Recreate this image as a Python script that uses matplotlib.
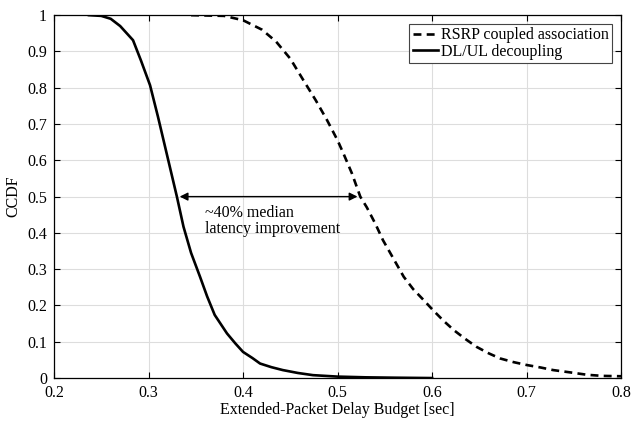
import matplotlib
matplotlib.use('Agg')
import matplotlib.pyplot as plt

plt.rcParams['font.family'] = ['Liberation Serif', 'DejaVu Serif']
plt.rcParams['font.size'] = 11.5

# RSRP coupled association (dashed)
x_rsrp = [0.345, 0.38, 0.40, 0.42, 0.435, 0.45, 0.464, 0.477, 0.489, 0.50, 0.506, 0.515, 0.524,
          0.531, 0.54, 0.548, 0.56, 0.570, 0.58, 0.591, 0.601, 0.612, 0.623, 0.635, 0.647,
          0.66, 0.672, 0.686, 0.70, 0.715, 0.728, 0.745, 0.764, 0.78, 0.80]
y_rsrp = [1.0, 0.998, 0.986, 0.96, 0.927, 0.88, 0.82, 0.765, 0.71, 0.655, 0.62, 0.565, 0.50,
          0.47, 0.425, 0.38, 0.325, 0.279, 0.245, 0.215, 0.187, 0.158, 0.132, 0.108, 0.086,
          0.068, 0.054, 0.044, 0.036, 0.029, 0.022, 0.016, 0.009, 0.006, 0.005]

# DL/UL decoupling (solid)
x_dec = [0.237, 0.25, 0.26, 0.27, 0.2836, 0.292, 0.3016, 0.310, 0.320, 0.330, 0.337, 0.345,
         0.3545, 0.362, 0.370, 0.383, 0.392, 0.400, 0.41, 0.418, 0.43, 0.442, 0.458, 0.474,
         0.50, 0.53, 0.56, 0.60]
y_dec = [1.0, 0.998, 0.99, 0.97, 0.931, 0.875, 0.807, 0.72, 0.61, 0.50, 0.417, 0.345,
         0.279, 0.225, 0.174, 0.123, 0.095, 0.072, 0.055, 0.040, 0.030, 0.022, 0.014, 0.008,
         0.004, 0.002, 0.001, 0.0]

fig = plt.figure(figsize=(6.33, 4.21), dpi=100)
ax = fig.add_axes([0.0853, 0.102, 0.896, 0.862])

ax.plot(x_rsrp, y_rsrp, 'k', ls=(0, (3, 2)), lw=1.9, label='RSRP coupled association')
ax.plot(x_dec, y_dec, 'k-', lw=1.9, label='DL/UL decoupling')

ax.annotate('', xy=(0.33, 0.5), xytext=(0.524, 0.5),
            arrowprops=dict(arrowstyle='<|-|>', color='k', lw=1, mutation_scale=12))
ax.text(0.360, 0.478, '~40% median\nlatency improvement', ha='left', va='top',
        fontsize=11.5, linespacing=1.0)

ax.set_xlim(0.2, 0.8)
ax.set_ylim(0, 1)
ax.set_xticks([0.2, 0.3, 0.4, 0.5, 0.6, 0.7, 0.8])
ax.set_yticks([i / 10 for i in range(11)])
ax.set_xticklabels(['0.2', '0.3', '0.4', '0.5', '0.6', '0.7', '0.8'])
ax.set_yticklabels(['0', '0.1', '0.2', '0.3', '0.4', '0.5', '0.6', '0.7', '0.8', '0.9', '1'])
ax.tick_params(direction='in', top=True, right=True, length=4, pad=5)
ax.grid(True, color='#dddddd', lw=0.8)
ax.set_axisbelow(True)
for s in ax.spines.values():
    s.set_linewidth(0.9)
ax.set_xlabel('Extended-Packet Delay Budget [sec]', fontsize=11.5, labelpad=1)
ax.set_ylabel('CCDF', fontsize=11.5, labelpad=4)

leg = ax.legend(loc='upper right', fancybox=False, framealpha=1, edgecolor='#444444',
                handlelength=1.6, handletextpad=0.2, borderpad=0.2, labelspacing=0.05,
                borderaxespad=0.55, fontsize=11.5)
leg.get_frame().set_linewidth(0.8)

fig.savefig('out.png', dpi=100)
